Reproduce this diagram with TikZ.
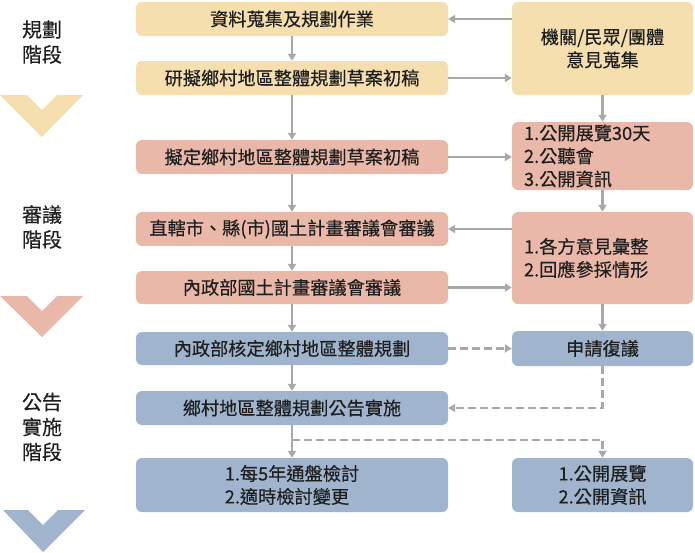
\documentclass[tikz,border=0pt]{standalone}
\usepackage{fontspec}
\setmainfont{Noto Sans CJK TC}[FakeBold=0.35,AutoFakeBold=0.35]
\usetikzlibrary{arrows.meta,calc}
\definecolor{cy}{HTML}{F6DFAF}
\definecolor{cp}{HTML}{EAB8A8}
\definecolor{cb}{HTML}{A0B4CD}
\definecolor{cg}{HTML}{A8A8A8}
\definecolor{ct}{HTML}{1E1E1E}
\tikzset{
  box/.style={rounded corners=6pt, inner sep=0pt, text=ct, font=\fontsize{18.2}{23}\selectfont\bfseries, align=center},
  lbox/.style={box, minimum width=312pt},
  rbox/.style={box, minimum width=181pt},
  ybox/.style={fill=cy}, pbox/.style={fill=cp}, bbox/.style={fill=cb},
  conn/.style={draw=cg, line width=2.6pt, -{Triangle[length=7pt,width=8pt]}},
  dconn/.style={conn, dash pattern=on 8pt off 4pt},
  stage/.style={text=ct, font=\fontsize{20}{25}\selectfont\bfseries, align=center}
}
\begin{document}
\begin{tikzpicture}[x=1pt,y=-1pt]
\useasboundingbox (0,0) rectangle (695,552);
% chevrons
\fill[cy] (0,95) -- (27,95) -- (42,110) -- (57,95) -- (83,95) -- (42,137) -- cycle;
\fill[cp] (0,296) -- (27,296) -- (42,311) -- (57,296) -- (83,296) -- (42,337) -- cycle;
\fill[cb] (3,510) -- (28,510) -- (43,525) -- (58,510) -- (85,510) -- (43,552) -- cycle;
% stage labels
\node[stage] (s1) at (42,42) {規劃\\階段};
\node[stage] (s2) at (42,227) {審議\\階段};
\node[stage] (s3) at (42,427) {公告\\實施\\階段};
% left boxes
\node[lbox,ybox,minimum height=34pt] (b1) at (292,19) {資料蒐集及規劃作業};
\node[lbox,ybox,minimum height=34pt] (b2) at (292,78) {研擬鄉村地區整體規劃草案初稿};
\node[lbox,pbox,minimum height=34pt] (b3) at (292,157) {擬定鄉村地區整體規劃草案初稿};
\node[lbox,pbox,minimum height=34pt] (b4) at (292,229) {直轄市、縣(市)國土計畫審議會審議};
\node[lbox,pbox,minimum height=33pt] (b5) at (292,287.5) {內政部國土計畫審議會審議};
\node[lbox,bbox,minimum height=33pt] (b6) at (292,348.5) {內政部核定鄉村地區整體規劃};
\node[lbox,bbox,minimum height=34pt] (b7) at (292,408) {鄉村地區整體規劃公告實施};
\node[lbox,bbox,minimum height=54pt,align=left] (b8) at (292,485) {1.每5年通盤檢討\\2.適時檢討變更};
% right boxes
\node[rbox,ybox,minimum height=93pt] (r1) at (602.5,48.5) {機關/民眾/團體\\意見蒐集};
\node[rbox,pbox,minimum height=68pt,text width=157pt,align=left] (r2) at (602.5,156) {1.公開展覽30天\\2.公聽會\\3.公開資訊};
\node[rbox,pbox,minimum height=92pt,text width=157pt,align=left] (r3) at (602.5,258) {1.各方意見彙整\\2.回應參採情形};
\node[rbox,bbox,minimum height=35pt] (r4) at (602.5,348.5) {申請復議};
\node[rbox,bbox,minimum height=54pt,align=left] (r5) at (602.5,485) {1.公開展覽\\2.公開資訊};
% vertical connectors left
\draw[conn] (b1) -- (b2);
\draw[conn] (b2) -- (b3);
\draw[conn] (b3) -- (b4);
\draw[conn] (b4) -- (b5);
\draw[conn] (b5) -- (b6);
\draw[conn] (b6) -- (b7);
\draw[conn] (b7) -- (b8);
% vertical connectors right
\draw[conn] (r1) -- (r2);
\draw[conn] (r2) -- (r3);
\draw[conn] (r3) -- (r4);
% horizontal
\draw[conn] (b1.east -| r1.west) -- (b1.east);
\draw[conn] (b2.east) -- (b2.east -| r1.west);
\draw[conn] (b3.east) -- (b3.east -| r2.west);
\draw[conn] (b4.east -| r3.west) -- (b4.east);
\draw[conn] (b5.east) -- (b5.east -| r3.west);
\draw[dconn] (b6.east) -- (r4.west);
\draw[dconn] (r4.south) |- (b7.east);
% branch
\coordinate (br) at ($(b7.south)!0.45!(b8.north)$);
\draw[dconn] (br) -| (r5.north);
\end{tikzpicture}
\end{document}
